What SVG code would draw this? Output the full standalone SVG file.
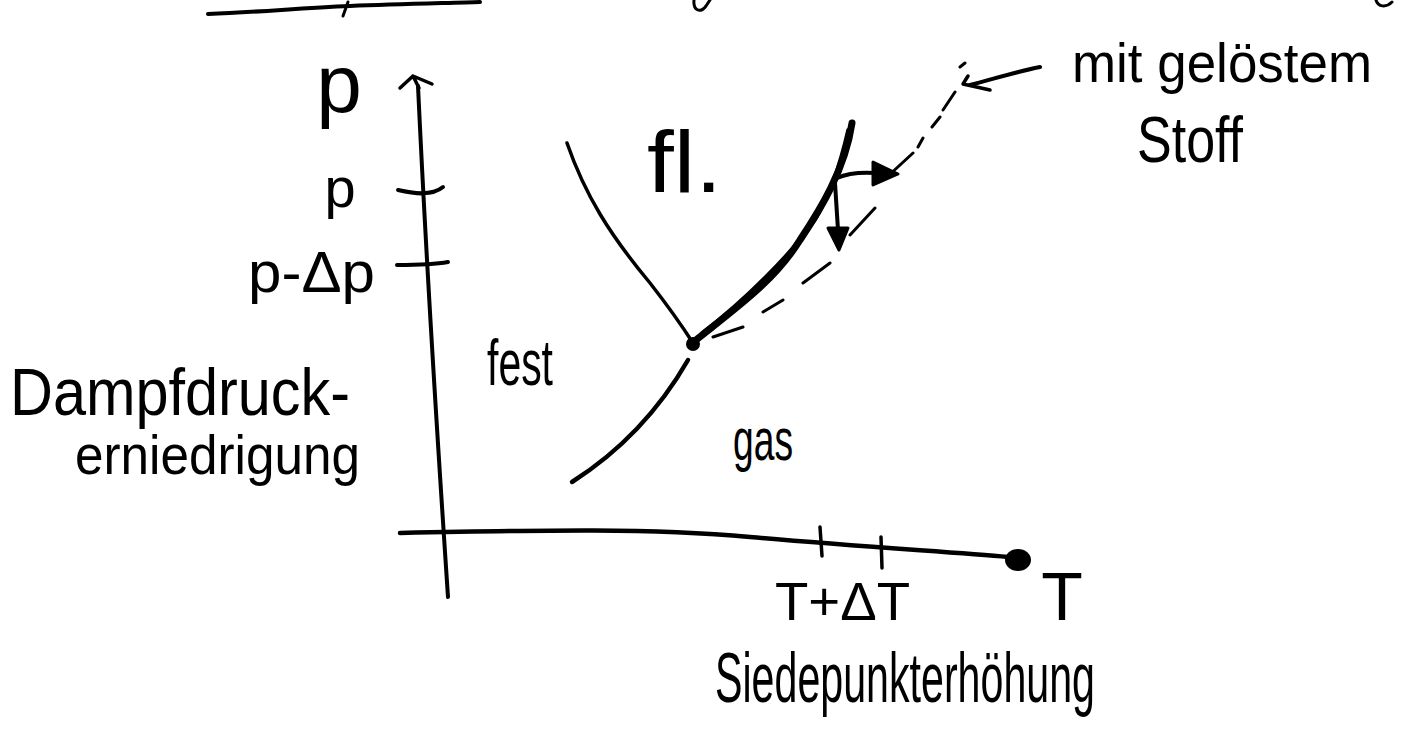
<svg xmlns="http://www.w3.org/2000/svg" width="1404" height="734" viewBox="0 0 1404 734">
<style>
.ln{fill:none;stroke:#000;stroke-linecap:round;stroke-linejoin:round}
.t{font-family:"Liberation Sans",Arial,sans-serif;fill:#000}
</style>
<rect width="1404" height="734" fill="#fff"/>
<g id="top-fragments">
<path class="ln" d="M208,14 C260,12 300,8 350,6 C400,4 450,3 480,2" stroke-width="4"/>
<path class="ln" d="M343,16 L348,2" stroke-width="3"/>
<path class="ln" d="M694,0 C693,10 700,14 706,6 L710,0" stroke-width="3"/>
<path class="ln" d="M1376,0 C1378,7 1386,8 1392,2" stroke-width="3"/>
</g>
<g id="axes">
<path class="ln" d="M418,86 Q428,300 448,597" stroke-width="4"/>
<path class="ln" d="M400,88 L413,76 L419,88 M413,76 L432,84" stroke-width="3.5"/>
<path class="ln" d="M398,190 C415,194 432,196 443,187" stroke-width="4"/>
<path class="ln" d="M397,265 C415,265 432,265 448,262" stroke-width="4"/>
<path class="ln" d="M400,533 C550,530 650,528 750,537 S950,552 1008,557" stroke-width="4.5"/>
<path class="ln" d="M820,527 L822,556" stroke-width="3.5"/>
<path class="ln" d="M881,537 L882,568" stroke-width="3.5"/>
<ellipse cx="1018" cy="560" rx="13" ry="11" fill="#000"/>
</g>
<g id="connectors">
<path class="ln" d="M567,143 C585,195 610,235 650,283 Q675,315 693,343" stroke-width="3.5"/>
<path class="ln" d="M688,360 C665,400 630,445 572,482" stroke-width="4.5"/>
<path class="ln" d="M696,340 C740,305 775,280 800,240 C820,210 845,170 852,123" stroke-width="7"/>
<path class="ln" d="M702,333 C745,300 790,255 815,220 C830,195 840,165 848,130" stroke-width="3.5"/>
<circle cx="693" cy="344" r="7" fill="#000"/>
<path class="ln" d="M713,337 L743,327 M763,312 L783,300 M803,283 L830,263 M850,235 L875,208 M887,177 L913,153 M918,147 L923,138 M932,127 L940,117 M943,110 L955,92 M960,67 L965,63" stroke-width="3"/>
<path class="ln" d="M837,178 C848,173 860,172 876,173" stroke-width="4"/>
<path d="M873,162 L898,174 L873,185 Z" fill="#000" stroke="#000" stroke-width="3" stroke-linejoin="round"/>
<path class="ln" d="M835,183 L838,230" stroke-width="4"/>
<path d="M828,228 L848,228 L839,250 Z" fill="#000" stroke="#000" stroke-width="3" stroke-linejoin="round"/>
<path class="ln" d="M1040,67 C1015,72 990,80 970,85" stroke-width="4"/>
<path class="ln" d="M968,76 L963,84 L990,90" stroke-width="3.5"/>
</g>
<g id="labels">
<text class="t" x="339" y="112" font-size="82" text-anchor="middle">p</text>
<text class="t" x="340" y="207" font-size="56" text-anchor="middle">p</text>
<text class="t" x="248" y="292" font-size="58" textLength="127" lengthAdjust="spacingAndGlyphs">p-Δp</text>
<text class="t" x="10" y="415" font-size="66" textLength="340" lengthAdjust="spacingAndGlyphs">Dampfdruck-</text>
<text class="t" x="75" y="474" font-size="56" textLength="285" lengthAdjust="spacingAndGlyphs">erniedrigung</text>
<text class="t" x="487" y="385" font-size="64" textLength="66" lengthAdjust="spacingAndGlyphs">fest</text>
<text class="t" x="647" y="192" font-size="88" textLength="75" lengthAdjust="spacingAndGlyphs">fl.</text>
<text class="t" x="733" y="460" font-size="60" textLength="60" lengthAdjust="spacingAndGlyphs">gas</text>
<text class="t" x="1072" y="82" font-size="55" textLength="300" lengthAdjust="spacingAndGlyphs">mit gelöstem</text>
<text class="t" x="1137" y="162" font-size="64" textLength="106" lengthAdjust="spacingAndGlyphs">Stoff</text>
<text class="t" x="775" y="620" font-size="54" textLength="135" lengthAdjust="spacingAndGlyphs">T+ΔT</text>
<text class="t" x="1062" y="620" font-size="68" text-anchor="middle">T</text>
<text class="t" x="715" y="702" font-size="70" textLength="380" lengthAdjust="spacingAndGlyphs">Siedepunkterhöhung</text>
</g>
</svg>
